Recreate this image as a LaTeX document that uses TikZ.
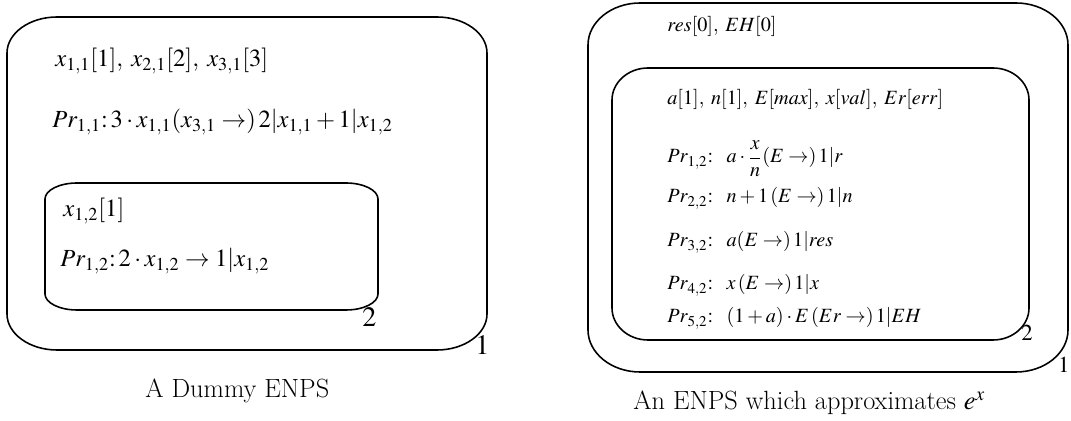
\documentclass[tikz,border=0pt]{standalone}
\usepackage{mathptmx}

% one membrane with elliptic corners: x0, y0, x1, y1, rx, ry
\newcommand{\membrane}[6]{%
  \draw[membr] ({#1+#5},#2) -- ({#3-#5},#2)
    .. controls ({#3-0.45*#5},#2) and (#3,{#2+0.45*#6}) .. (#3,{#2+#6})
    -- (#3,{#4-#6})
    .. controls (#3,{#4-0.45*#6}) and ({#3-0.45*#5},#4) .. ({#3-#5},#4)
    -- ({#1+#5},#4)
    .. controls ({#1+0.45*#5},#4) and (#1,{#4-0.45*#6}) .. (#1,{#4-#6})
    -- (#1,{#2+#6})
    .. controls (#1,{#2+0.45*#6}) and ({#1+0.45*#5},#2) .. cycle;}

\begin{document}
\begin{tikzpicture}[x=0.02cm,y=-0.02cm,
    membr/.style={line width=0.9pt},
    bigtext/.style={anchor=base west,inner sep=0pt,font=\fontsize{14}{16}\selectfont},
    smalltext/.style={anchor=base west,inner sep=0pt,font=\fontsize{11.5}{13}\selectfont},
    memlabel/.style={anchor=base west,inner sep=0pt,font=\fontsize{16}{18}\selectfont},
    caption/.style={anchor=base west,inner sep=0pt,font=\fontfamily{lmr}\fontsize{15}{18}\selectfont}]
  \useasboundingbox (0,0) rectangle (1071,421);

  % dummy ENPS
  \membrane{7}{17}{487}{350}{50}{36}
  \membrane{45}{183}{378}{310}{32}{16}
  \node[bigtext] (dvars) at (55,67) {$x_{1,1}[1],\; x_{2,1}[2],\; x_{3,1}[3]$};
  \node[bigtext] (drule) at (52,128) {$Pr_{1,1}{:}\,3\cdot x_{1,1}(x_{3,1}\rightarrow)\,2|x_{1,1}+1|x_{1,2}$};
  \node[bigtext] (dinvars) at (63,217) {$x_{1,2}[1]$};
  \node[bigtext] (dinrule) at (60,267) {$Pr_{1,2}{:}\,2\cdot x_{1,2}\rightarrow 1|x_{1,2}$};
  \node[memlabel] (dlab2) at (362,327) {$2$};
  \node[memlabel] (dlab1) at (475,355) {$1$};
  \node[caption] (dcap) at (145,398) {A Dummy ENPS};

  % ENPS for e^x
  \membrane{588}{3}{1068}{372}{52}{42}
  \membrane{612}{68}{1029}{340}{36}{32}
  \node[smalltext] (evars) at (667,32) {$res[0],\; EH[0]$};
  \node[smalltext] (einvars) at (667,105) {$a[1],\; n[1],\; E[max],\; x[val],\; Er[err]$};
  \node[smalltext] (erule1) at (667,163) {$Pr_{1,2}{:}\;\;\; a\cdot\displaystyle\frac{x}{n}(E\rightarrow)\,1|r$};
  \node[smalltext] (erule2) at (667,203) {$Pr_{2,2}{:}\;\;\; n+1\,(E\rightarrow)\,1|n$};
  \node[smalltext] (erule3) at (667,247) {$Pr_{3,2}{:}\;\;\; a(E\rightarrow)\,1|res$};
  \node[smalltext] (erule4) at (667,290) {$Pr_{4,2}{:}\;\;\; x\,(E\rightarrow)\,1|x$};
  \node[smalltext] (erule5) at (667,323) {$Pr_{5,2}{:}\;\;\; (1+a)\cdot E\,(Er\rightarrow)\,1|EH$};
  \node[memlabel,font=\fontsize{13}{15}\selectfont] (elab2) at (1021,341) {$2$};
  \node[memlabel,anchor=base east,font=\fontsize{13}{15}\selectfont] (elab1) at (1070,373) {$1$};
  \node[caption] (ecap) at (633,410) {An ENPS which approximates $e^x$};
\end{tikzpicture}
\end{document}
